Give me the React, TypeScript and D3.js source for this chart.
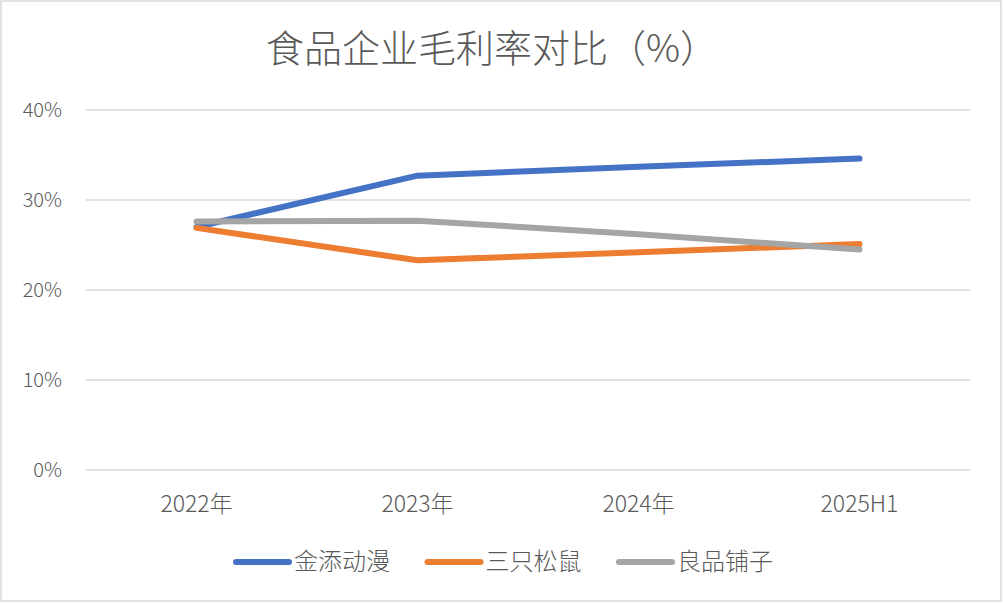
import React from "react";
import * as d3 from "d3";

const categories = ["2022年", "2023年", "2024年", "2025H1"];
const seriesNames = ["金添动漫", "三只松鼠", "良品铺子"];
const jintian = [27.0, 32.7, 33.7, 34.6];
const sanzhi = [26.9, 23.3, 24.2, 25.1];
const liangpin = [27.6, 27.7, 26.2, 24.5];
const seriesValues = [jintian, sanzhi, liangpin];
const colors = ["#4472C4", "#ED7D31", "#A5A5A5"];
const yTicks = [0, 10, 20, 30, 40];
const title = "食品企业毛利率对比（%）";

const W = 1003;
const H = 603;
const FONT = "'Noto Sans CJK SC', 'Noto Sans', sans-serif";

export default function App() {
  const left = 86;
  const right = 970;
  const top = 110;
  const bottom = 470;

  const x = d3.scaleBand<string>().domain(categories).range([left, right]);
  const y = d3.scaleLinear().domain([0, 40]).range([bottom, top]);
  const line = d3
    .line<number>()
    .x((_, i) => (x(categories[i]) as number) + x.bandwidth() / 2)
    .y((d) => y(d));

  const legendStart = 233;
  const legendStride = 191.5;

  return (
    <svg
      width={W}
      height={H}
      style={{ position: "absolute", left: 0, top: 0, background: "#fff" }}
      fontFamily={FONT}
    >
      <rect x={1} y={1} width={W - 3} height={H - 3} fill="#fff" stroke="#D9D9D9" strokeWidth={1.5} />
      <text x={492} y={62} textAnchor="middle" fontSize={38} fill="#595959" fontWeight={300}>
        {title}
      </text>
      {yTicks.map((t) => (
        <g key={t}>
          <line x1={left} x2={right} y1={y(t)} y2={y(t)} stroke="#D9D9D9" strokeWidth={1.5} />
          <text x={62} y={y(t) + 7} textAnchor="end" fontSize={20} fill="#595959" fontWeight={300}>
            {t}%
          </text>
        </g>
      ))}
      {categories.map((c) => (
        <text
          key={c}
          x={(x(c) as number) + x.bandwidth() / 2}
          y={512}
          textAnchor="middle"
          fontSize={23}
          fill="#595959"
          fontWeight={300}
        >
          {c}
        </text>
      ))}
      {seriesValues.map((vals, i) => (
        <path
          key={seriesNames[i]}
          d={line(vals) || ""}
          fill="none"
          stroke={colors[i]}
          strokeWidth={6}
          strokeLinecap="round"
          strokeLinejoin="round"
        />
      ))}
      {seriesNames.map((n, i) => {
        const lx = legendStart + i * legendStride;
        return (
          <g key={n}>
            <line x1={lx + 3} x2={lx + 56} y1={562} y2={562} stroke={colors[i]} strokeWidth={6} strokeLinecap="round" />
            <text x={lx + 61} y={570} fontSize={24} fill="#595959" fontWeight={300}>
              {n}
            </text>
          </g>
        );
      })}
    </svg>
  );
}
